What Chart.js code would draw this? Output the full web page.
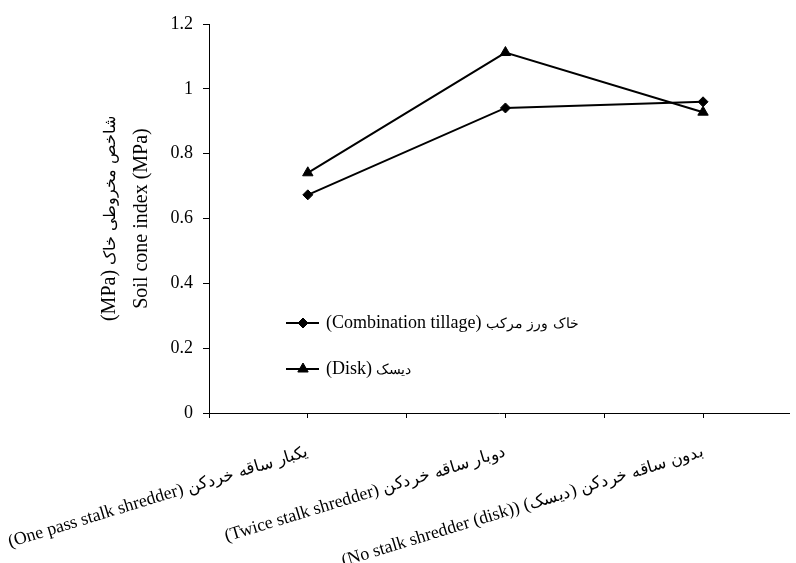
<!DOCTYPE html>
<html>
<head>
<meta charset="utf-8">
<script src="https://cdn.jsdelivr.net/npm/chart.js@4.4.1/dist/chart.umd.min.js"></script>
<style>
  /* Persian glyphs sized a little differently from the Latin ones, as in the figure */
  @font-face {
    font-family: 'FaTitle';
    src: local('DejaVu Sans'), local('DejaVuSans');
    unicode-range: U+0600-06FF, U+FB50-FDFF, U+FE70-FEFF;
    size-adjust: 80%;
  }
  @font-face {
    font-family: 'FaTick';
    src: local('DejaVu Sans'), local('DejaVuSans');
    unicode-range: U+0600-06FF, U+FB50-FDFF, U+FE70-FEFF;
    size-adjust: 92%;
  }
  html, body { margin: 0; padding: 0; background: #fff; }
  #wrap { width: 796px; height: 563px; }
</style>
</head>
<body>
<div id="wrap"><canvas id="coneChart"></canvas></div>
<script>
// data
const categories = [
  '(One pass stalk shredder) یکبار ساقه خردکن',
  '(Twice stalk shredder) دوبار ساقه خردکن',
  '(No stalk shredder (disk)) بدون ساقه خردکن (دیسک)'
];
const combinationTillage = [0.673, 0.941, 0.96];
const diskValues = [0.741, 1.112, 0.928];
const seriesNames = ['(Combination tillage) خاک ورز مرکب', '(Disk) دیسک'];
const yTitle = ['(MPa) شاخص مخروطی خاک', 'Soil cone index (MPa)'];

const FONT = "'Liberation Serif', 'FaTitle', 'Times New Roman', serif";
const TICK_FONT = "'Liberation Serif', 'FaTick', 'Times New Roman', serif";

// categories sit at 1, 3, 5 so ticks fall on both centres and boundaries
const toPoints = vals => vals.map((v, i) => ({ x: i * 2 + 1, y: v }));

// legend drawn inside the plot, lower left
const insideLegend = {
  id: 'insideLegend',
  afterDatasetsDraw(chart) {
    const ctx = chart.ctx;
    chart.data.datasets.forEach((ds, i) => {
      const y = 323 + i * 46;
      ctx.save();
      ctx.strokeStyle = '#000';
      ctx.fillStyle = '#000';
      ctx.lineWidth = 2;
      ctx.beginPath();
      ctx.moveTo(286, y);
      ctx.lineTo(319, y);
      ctx.stroke();
      ctx.lineWidth = 1;
      Chart.helpers.drawPoint(ctx, { pointStyle: ds.pointStyle, radius: ds.pointRadius, rotation: 0, borderWidth: 1 }, 303, y);
      ctx.font = '18px ' + FONT;
      ctx.textBaseline = 'middle';
      ctx.textAlign = 'left';
      ctx.fillText(ds.label, 326, y);
      ctx.restore();
    });
  }
};

function draw() {
  new Chart(document.getElementById('coneChart'), {
    type: 'line',
    data: {
      datasets: [
        {
          label: seriesNames[0],
          data: toPoints(combinationTillage),
          borderColor: '#000',
          backgroundColor: '#000',
          borderWidth: 2,
          pointStyle: 'rectRot',
          pointRadius: 5,
          pointBorderWidth: 1,
          tension: 0
        },
        {
          label: seriesNames[1],
          data: toPoints(diskValues),
          borderColor: '#000',
          backgroundColor: '#000',
          borderWidth: 2,
          pointStyle: 'triangle',
          pointRadius: 6,
          pointBorderWidth: 1,
          tension: 0
        }
      ]
    },
    options: {
      responsive: true,
      maintainAspectRatio: false,
      animation: false,
      layout: { padding: { left: 94, top: 24, right: 0, bottom: 0 } },
      plugins: {
        legend: { display: false },
        tooltip: { enabled: false }
      },
      scales: {
        x: {
          type: 'linear',
          min: 0,
          max: 5.87, // the figure is cut just before the last boundary tick
          afterFit(scale) {
            scale.height = 150;
            scale.paddingLeft = 0;
            scale.paddingRight = 0;
          },
          border: { color: '#000', width: 1 },
          grid: { drawOnChartArea: false, color: '#000', tickLength: 5 },
          ticks: {
            stepSize: 1,
            includeBounds: false,
            autoSkip: false,
            maxRotation: 17,
            minRotation: 17,
            padding: 23,
            color: '#000',
            font: { family: TICK_FONT, size: 18 },
            callback: v => (v % 2 === 1 ? categories[(v - 1) / 2] : '')
          }
        },
        y: {
          min: 0,
          max: 1.2,
          afterFit(scale) {
            scale.width = 115;
          },
          border: { color: '#000', width: 1 },
          grid: { drawOnChartArea: false, color: '#000', tickLength: 6 },
          ticks: {
            stepSize: 0.2,
            padding: 10,
            color: '#000',
            font: { family: FONT, size: 18 },
            callback: v => String(Math.round(v * 10) / 10)
          },
          title: {
            display: true,
            text: yTitle,
            color: '#000',
            padding: 0,
            font: { family: FONT, size: 20, lineHeight: 1.6 }
          }
        }
      }
    },
    plugins: [insideLegend]
  });
}

Promise.all([
  document.fonts.load('18px FaTitle', 'خاک'),
  document.fonts.load('18px FaTick', 'خاک')
]).then(draw, draw);
</script>
</body>
</html>
